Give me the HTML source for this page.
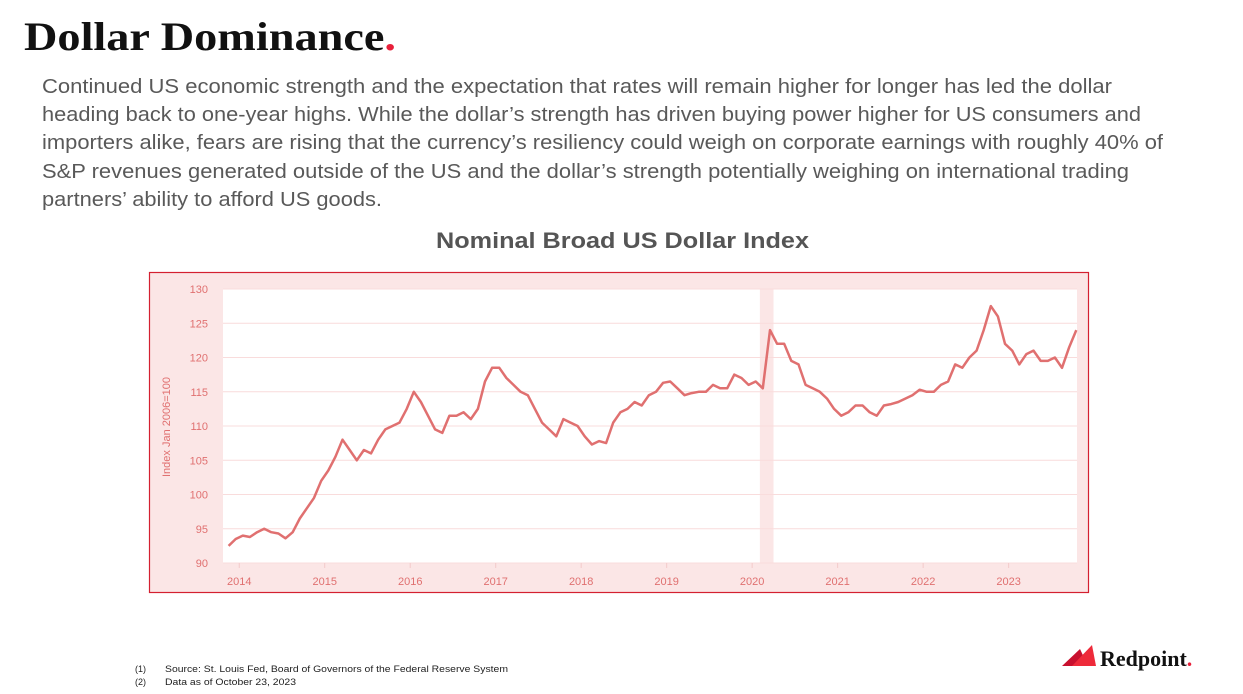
<!DOCTYPE html>
<html><head><meta charset="utf-8"><style>
body{margin:0;width:1243px;height:694px;background:#fff;overflow:hidden}
svg{display:block}
</style></head><body>
<svg width="1243" height="694" viewBox="0 0 1243 694">
<text x="24" y="50" font-family="Liberation Serif, serif" font-weight="bold" font-size="40" fill="#111" textLength="372" lengthAdjust="spacingAndGlyphs">Dollar Dominance<tspan fill="#e8203a">.</tspan></text>
<g font-family="Liberation Sans, sans-serif" font-size="20" fill="#595959">
<text x="42" y="93" textLength="1070" lengthAdjust="spacingAndGlyphs">Continued US economic strength and the expectation that rates will remain higher for longer has led the dollar</text>
<text x="42" y="121" textLength="1099" lengthAdjust="spacingAndGlyphs">heading back to one-year highs. While the dollar’s strength has driven buying power higher for US consumers and</text>
<text x="42" y="149" textLength="1121" lengthAdjust="spacingAndGlyphs">importers alike, fears are rising that the currency’s resiliency could weigh on corporate earnings with roughly 40% of</text>
<text x="42" y="178" textLength="1087" lengthAdjust="spacingAndGlyphs">S&amp;P revenues generated outside of the US and the dollar’s strength potentially weighing on international trading</text>
<text x="42" y="206" textLength="340" lengthAdjust="spacingAndGlyphs">partners’ ability to afford US goods.</text>
</g>
<text x="436" y="248" font-family="Liberation Sans, sans-serif" font-weight="bold" font-size="22" fill="#555" textLength="373" lengthAdjust="spacingAndGlyphs">Nominal Broad US Dollar Index</text>
<rect x="149.5" y="272.5" width="939" height="320" fill="#fbe6e6" stroke="#d42030" stroke-width="1.2"/>
<g id="chart"></g>
<g font-family="Liberation Sans, sans-serif" font-size="9" fill="#222">
<text x="135" y="672">(1)</text><text x="165" y="672" textLength="343" lengthAdjust="spacingAndGlyphs">Source: St. Louis Fed, Board of Governors of the Federal Reserve System</text>
<text x="135" y="685">(2)</text><text x="165" y="685" textLength="131" lengthAdjust="spacingAndGlyphs">Data as of October 23, 2023</text>
</g>
<g>
<polygon points="1062,666 1080,649 1088,666" fill="#c8102e"/>
<polygon points="1072,666 1092,645 1096,666" fill="#ee2a3a"/>
<text x="1100" y="666" font-family="Liberation Serif, serif" font-weight="bold" font-size="22" fill="#111">Redpoint<tspan fill="#e8203a">.</tspan></text>
</g>
</svg>
<script>
const startYear = 2013, startMonth = 11;
const values = [92.5,93.5,
94,93.8,94.5,95,94.5,94.3,93.6,94.5,96.5,98,99.5,102,
103.5,105.5,108,106.5,105,106.5,106,108,109.5,110,110.5,112.5,
115,113.5,111.5,109.5,109,111.5,111.5,112,111,112.5,116.5,118.5,
118.5,117,116,115,114.5,112.5,110.5,109.5,108.5,111,110.5,110,
108.5,107.3,107.8,107.5,110.5,112,112.5,113.5,113,114.5,115,116.3,
116.5,115.5,114.5,114.8,115,115,116,115.5,115.5,117.5,117,116,
116.5,115.5,124,122,122,119.5,119,116,115.5,115,114,112.5,
111.5,112,113,113,112,111.5,113,113.2,113.5,114,114.5,115.3,
115,115,116,116.5,119,118.5,120,121,124,127.5,126,122,
121,119,120.5,121,119.5,119.5,120,118.5,121.5,124];
const yTicks = [90,95,100,105,110,115,120,125,130];
const xTicks = [2014,2015,2016,2017,2018,2019,2020,2021,2022,2023];
const recession = [2020.09, 2020.25];

const NS='http://www.w3.org/2000/svg';
const g=document.getElementById('chart');
const L=223,R=1077,T=289,B=563;
const x0=2013.81,x1=2023.8;
const xs=v=>L+(v-x0)/(x1-x0)*(R-L);
const ys=v=>B-(v-90)/40*(B-T);
function mk(t,a){const e=document.createElementNS(NS,t);for(const k in a)e.setAttribute(k,a[k]);g.appendChild(e);return e;}
let e=mk('rect',{x:L,y:T,width:R-L,height:B-T,fill:'#fff'});


e=mk('rect',{x:xs(recession[0]),y:T,width:xs(recession[1])-xs(recession[0]),height:B-T,fill:'#fbe6e6'});


yTicks.forEach(v=>{
  e=mk('line',{x1:L,x2:R,y1:ys(v),y2:ys(v),stroke:'#f9dcdc','stroke-width':1});
  
  
  e=mk('text',{x:208,y:ys(v)+4,'text-anchor':'end','font-family':'Liberation Sans, sans-serif','font-size':11,fill:'#e07070'});
  e.textContent=v;
  
  
});
xTicks.forEach(v=>{
  e=mk('line',{x1:xs(v),x2:xs(v),y1:B,y2:B+5,stroke:'#f3caca'});
  
  
  e=mk('text',{x:xs(v),y:585,'text-anchor':'middle','font-family':'Liberation Sans, sans-serif','font-size':11,fill:'#e07070'});
  e.textContent=v;
  
  
});
e=mk('text',{x:0,y:0,transform:'translate(170,427) rotate(-90)','text-anchor':'middle','font-family':'Liberation Sans, sans-serif','font-size':11,fill:'#e07070'});
e.textContent='Index Jan 2006=100';


const pts=values.map((v,i)=>{const t=startYear+(startMonth-1+i+0.5)/12;return xs(t).toFixed(1)+','+ys(v).toFixed(1);});
e=mk('polyline',{points:pts.join(' '),fill:'none',stroke:'#e07070','stroke-width':2.5,'stroke-linejoin':'round'});


</script>
</body></html>
